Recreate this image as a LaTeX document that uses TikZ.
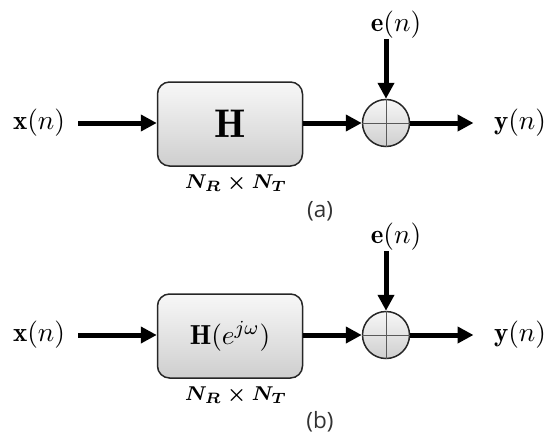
\documentclass[tikz,border=0pt]{standalone}
\usepackage{amsmath,bm}
\usepackage{fontspec}
\newfontfamily\capfont{Open Sans}
\usetikzlibrary{arrows.meta}
\begin{document}
\begin{tikzpicture}[x=0.4pt,y=-0.4pt,
  arr/.style={line width=2pt,-{Triangle[length=6.4pt,width=6.4pt]}},
  blk/.style={draw=black!85,line width=0.6pt,rounded corners=4.8pt,top color=gray!6,bottom color=gray!38,minimum width=58pt,minimum height=33.6pt,inner sep=0},
  sumnode/.style={circle,draw=black!85,line width=0.6pt,top color=gray!6,bottom color=gray!38,minimum size=18.8pt,inner sep=0},
  crossln/.style={draw=black!65,line width=0.4pt},
  sig/.style={inner sep=0,font=\fontsize{10.8}{12}\selectfont},
  dimlab/.style={inner sep=0,font=\fontsize{8.3}{10}\selectfont\boldmath},
  caplab/.style={inner sep=0,font=\capfont\fontsize{9}{10}\selectfont,text=black!80}]
\useasboundingbox (0,0) rectangle (559,440);
% ---------- (a) ----------
\node[sig] (xa) at (39,123) {$\mathbf{x}(n)$};
\node[blk,font=\fontsize{16}{18}\selectfont] (ha) at (230,124) {$\mathbf{H}$};
\node[sumnode] (sa) at (386,123) {};
\draw[crossln] (sa.north) -- (sa.south) (sa.west) -- (sa.east);
\node[sig] (ea) at (396,25) {$\mathbf{e}(n)$};
\node[sig] (ya) at (520,123) {$\mathbf{y}(n)$};
\node[dimlab] (da) at (236,183) {$N_R\times N_T$};
\node[caplab] (ca) at (320,211) {(a)};
\draw[arr] ([xshift=5.2pt]xa.east) -- (ha.west |- xa);
\draw[arr] (ha.east |- sa) -- (sa.west);
\draw[arr] (ea.south -| sa.north) -- (sa.north);
\draw[arr] (sa.east) -- ([xshift=-8pt]ya.west);
% ---------- (b) ----------
\node[sig] (xb) at (39,335) {$\mathbf{x}(n)$};
\node[blk,font=\fontsize{11}{13}\selectfont] (hb) at (230,336) {$\mathbf{H}(e^{j\omega})$};
\node[sumnode] (sb) at (386,335) {};
\draw[crossln] (sb.north) -- (sb.south) (sb.west) -- (sb.east);
\node[sig] (eb) at (396,237) {$\mathbf{e}(n)$};
\node[sig] (yb) at (520,335) {$\mathbf{y}(n)$};
\node[dimlab] (db) at (236,395) {$N_R\times N_T$};
\node[caplab] (cb) at (320,422) {(b)};
\draw[arr] ([xshift=5.2pt]xb.east) -- (hb.west |- xb);
\draw[arr] (hb.east |- sb) -- (sb.west);
\draw[arr] (eb.south -| sb.north) -- (sb.north);
\draw[arr] (sb.east) -- ([xshift=-8pt]yb.west);
\end{tikzpicture}
\end{document}
